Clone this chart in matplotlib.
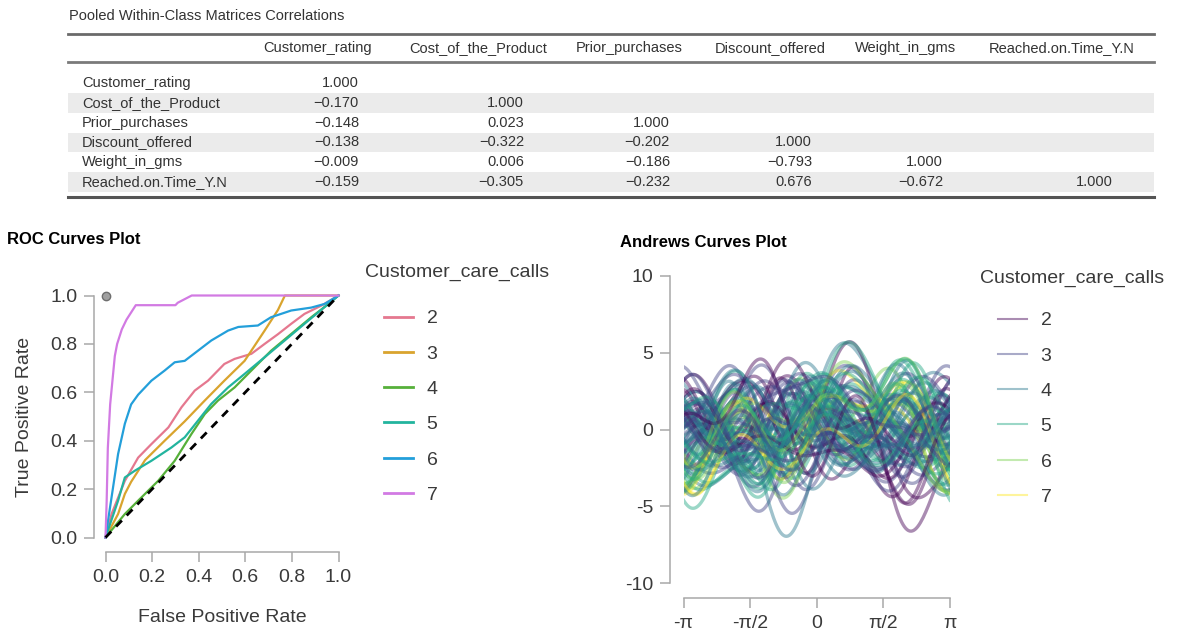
import matplotlib.pyplot as plt
import numpy as np
import pandas as pd
from matplotlib.lines import Line2D
from matplotlib.patches import Rectangle
from pandas.plotting import andrews_curves

plt.rcParams['font.family'] = ['Liberation Sans', 'DejaVu Sans']
plt.rcParams['axes.unicode_minus'] = False

# ---- correlation table ----
var_names = ['Customer_rating', 'Cost_of_the_Product', 'Prior_purchases',
             'Discount_offered', 'Weight_in_gms', 'Reached.on.Time_Y.N']
corr_rows = [
    [1.000],
    [-0.170, 1.000],
    [-0.148, 0.023, 1.000],
    [-0.138, -0.322, -0.202, 1.000],
    [-0.009, 0.006, -0.186, -0.793, 1.000],
    [-0.159, -0.305, -0.232, 0.676, -0.672, 1.000],
]

# ---- ROC curves (false positive rate, true positive rate) per class ----
calls = [2, 3, 4, 5, 6, 7]
fpr_2 = [0, 0.026, 0.083, 0.14, 0.197, 0.27, 0.326, 0.383, 0.44, 0.51, 0.554, 0.626, 0.683, 0.74, 0.797, 0.854, 0.93, 1]
tpr_2 = [0, 0.097, 0.234, 0.33, 0.386, 0.455, 0.538, 0.607, 0.648, 0.717, 0.738, 0.759, 0.80, 0.84, 0.883, 0.924, 0.96, 1]
fpr_3 = [0, 0.054, 0.083, 0.11, 0.17, 0.254, 0.34, 0.426, 0.51, 0.597, 0.683, 0.74, 0.77, 1]
tpr_3 = [0, 0.097, 0.18, 0.23, 0.32, 0.40, 0.48, 0.566, 0.648, 0.73, 0.855, 0.94, 1.0, 1]
fpr_4 = [0, 0.083, 0.14, 0.226, 0.297, 0.369, 0.426, 0.483, 0.554, 0.626, 0.711, 0.797, 0.883, 0.95, 1]
tpr_4 = [0, 0.097, 0.152, 0.234, 0.317, 0.428, 0.51, 0.566, 0.62, 0.69, 0.772, 0.841, 0.91, 0.96, 1]
fpr_5 = [0, 0.054, 0.083, 0.126, 0.197, 0.283, 0.34, 0.397, 0.454, 0.526, 0.597, 0.683, 0.769, 0.854, 0.94, 1]
tpr_5 = [0, 0.152, 0.248, 0.276, 0.317, 0.372, 0.414, 0.483, 0.552, 0.62, 0.676, 0.745, 0.814, 0.883, 0.952, 1]
fpr_6 = [0, 0.026, 0.054, 0.083, 0.11, 0.14, 0.197, 0.254, 0.297, 0.34, 0.397, 0.454, 0.526, 0.57, 0.654, 0.71, 0.797, 0.883, 0.94, 1]
tpr_6 = [0, 0.166, 0.345, 0.47, 0.55, 0.59, 0.648, 0.69, 0.724, 0.73, 0.772, 0.814, 0.855, 0.87, 0.876, 0.91, 0.938, 0.95, 0.965, 1]
fpr_7 = [0, 0.005, 0.01, 0.02, 0.03, 0.04, 0.05, 0.07, 0.09, 0.11, 0.13, 0.30, 0.31, 0.33, 0.37, 1]
tpr_7 = [0, 0.15, 0.37, 0.55, 0.65, 0.75, 0.80, 0.86, 0.90, 0.93, 0.96, 0.96, 0.97, 0.98, 1.0, 1]
roc_fpr = [fpr_2, fpr_3, fpr_4, fpr_5, fpr_6, fpr_7]
roc_tpr = [tpr_2, tpr_3, tpr_4, tpr_5, tpr_6, tpr_7]
roc_colors = ['#E5788F', '#D9A42E', '#56B03A', '#22B49E', '#239FDA', '#D27AE3']

# ---- standardized observations for the Andrews curves ----
rows_2 = [[1.4, -0.9, -0.4, -0.6, 0.9, -1.2], [-0.7, -1.8, 1.6, 2.8, -1.3, 0.8],
          [0.0, -1.2, -1.0, -0.5, 1.1, 0.8], [-1.4, -2.0, 0.3, -0.4, 0.6, -1.2],
          [0.7, -0.6, 2.2, 3.1, -1.1, 0.8], [-0.7, -1.5, -0.4, -0.3, 1.2, 0.8],
          [1.4, -1.1, 0.9, -0.5, 1.0, -1.2], [-1.4, -0.4, -1.0, -0.6, 0.8, 0.8],
          [0.0, -2.2, 0.3, 1.2, -1.0, 0.8]]
rows_3 = [[0.7, -0.3, -0.4, -0.5, 0.8, -1.2], [-1.4, 0.4, 0.9, -0.6, 1.0, 0.8],
          [0.0, -1.1, -1.0, 1.7, -1.2, 0.8], [1.4, 0.2, 0.3, -0.4, 0.5, -1.2],
          [-0.7, -0.8, -0.4, -0.6, 1.3, 0.8], [0.0, 0.9, 1.6, 2.4, -1.4, 0.8],
          [1.4, -1.4, -1.0, -0.2, 0.7, 0.8], [-1.4, 0.6, -0.4, -0.5, 0.9, -1.2],
          [0.7, 1.2, 0.3, -0.7, -0.9, 0.8], [-0.7, -0.2, 2.2, -0.3, 1.1, -1.2],
          [0.0, 0.3, -1.0, 3.3, -1.5, 0.8], [1.4, -0.6, 0.9, -0.6, 0.6, 0.8],
          [-1.4, 1.5, -0.4, -0.4, 1.2, -1.2], [0.7, -1.7, 0.3, 0.6, -0.6, 0.8],
          [0.0, -0.5, 0.3, -0.6, 1.1, -1.2], [1.4, 0.7, -0.4, -0.5, 0.9, 0.8],
          [-0.7, -1.3, 0.9, -0.4, 0.6, -1.2], [0.7, 0.0, -1.0, 2.1, -1.3, 0.8],
          [-1.4, -0.9, 0.3, -0.6, 1.2, 0.8], [0.0, 1.0, -0.4, -0.3, 0.7, -1.2],
          [1.4, -0.2, 1.6, -0.7, 1.0, 0.8], [-0.7, 0.5, 0.3, 0.9, -1.1, 0.8],
          [0.7, -1.0, -0.4, -0.5, 1.3, -1.2], [-1.4, 0.1, -1.0, -0.4, 0.8, 0.8]]
rows_4 = [[0.0, 0.5, 0.3, -0.6, 0.9, -1.2], [1.4, 0.1, -1.0, -0.4, 1.1, 0.8],
          [-0.7, 1.3, 0.9, 2.0, -1.3, 0.8], [0.7, -0.4, -0.4, -0.5, 0.7, -1.2],
          [-1.4, 0.8, 1.6, -0.7, 1.0, 0.8], [0.0, -0.9, -0.4, 1.1, -1.1, 0.8],
          [1.4, 1.6, 0.3, -0.3, 0.4, -1.2], [-0.7, 0.0, -1.0, -0.6, 1.3, 0.8],
          [0.7, 1.0, 2.2, 2.9, -1.4, 0.8], [-1.4, -0.5, 0.3, -0.5, 0.8, -1.2],
          [0.0, 1.9, -0.4, -0.4, -0.8, 0.8], [1.4, 0.7, 0.9, -0.6, 1.2, -1.2],
          [-0.7, -1.3, -1.0, 0.3, -1.0, 0.8], [0.7, 0.3, 0.3, -0.5, 1.0, 0.8],
          [-1.4, 1.1, -0.4, 3.5, -1.5, 0.8], [0.0, -0.1, 1.6, -0.3, 0.6, -1.2],
          [0.7, 0.6, -0.4, -0.6, 1.1, 0.8], [-0.7, 1.4, 0.3, -0.5, 0.7, -1.2],
          [1.4, -0.2, 0.9, 1.6, -1.2, 0.8], [0.0, 0.9, -1.0, -0.4, 1.2, -1.2],
          [-1.4, 0.2, 0.3, -0.6, 0.9, 0.8], [0.7, 1.7, 1.6, -0.3, -1.0, 0.8],
          [-0.7, -0.7, -0.4, -0.5, 1.0, -1.2], [1.4, 0.4, 0.3, 2.4, -1.4, 0.8],
          [0.0, 1.2, 0.9, -0.7, 0.5, 0.8], [-1.4, -0.2, -1.0, -0.4, 1.1, -1.2]]
rows_5 = [[0.7, 0.9, 0.9, -0.5, 0.9, -1.2], [-1.4, 1.4, 1.6, -0.6, 1.1, 0.8],
          [0.0, 0.2, 0.3, 2.2, -1.2, 0.8], [1.4, 1.7, -0.4, -0.4, 0.7, -1.2],
          [-0.7, 0.6, 2.2, -0.7, 1.3, 0.8], [0.7, 1.2, 0.3, 1.4, -1.3, 0.8],
          [-1.4, -0.3, 0.9, -0.5, 0.5, -1.2], [0.0, 2.0, -0.4, -0.6, 1.0, 0.8],
          [1.4, 0.4, 1.6, 3.0, -1.4, 0.8], [-0.7, 1.0, -1.0, -0.3, 0.8, -1.2],
          [0.7, -0.6, 0.3, -0.6, 1.2, 0.8], [0.0, 1.5, 2.2, -0.4, -0.9, 0.8],
          [1.4, 1.1, 0.3, -0.5, 1.0, 0.8], [-0.7, 1.8, 0.9, -0.6, 0.6, -1.2],
          [0.0, 0.7, 1.6, 1.9, -1.3, 0.8], [0.7, 1.3, -1.0, -0.4, 1.1, -1.2],
          [-1.4, 0.5, 0.3, -0.3, 0.9, 0.8], [1.4, 1.6, 0.9, -0.6, -1.1, 0.8]]
rows_6 = [[0.0, 1.2, 0.9, -0.6, -1.1, 0.8], [1.4, 0.8, 1.6, -0.5, -0.9, -1.2],
          [-0.7, 1.5, 0.3, 1.5, -1.2, 0.8], [0.7, 0.6, 1.6, -0.4, -1.0, 0.8],
          [-1.4, 1.4, 0.9, -0.7, -0.8, -1.2], [0.0, 1.0, 1.6, 2.6, -1.3, 0.8],
          [1.4, 1.6, 0.3, -0.3, -1.1, 0.8]]
rows_7 = [[-0.7, 1.2, 0.9, -0.6, -1.0, 0.8], [0.7, 1.0, 0.3, -0.5, -0.8, 0.8],
          [0.0, 1.4, 1.6, 1.8, -1.2, 0.8], [1.4, 0.9, 0.9, -0.4, -1.1, 0.8],
          [-1.4, 1.3, 0.3, -0.6, -0.9, 0.8]]
andrews_rows = [rows_2, rows_3, rows_4, rows_5, rows_6, rows_7]
andrews_colors = ['#440154', '#414487', '#2A788E', '#22A884', '#7AD151', '#FDE725']

W, H = 1183, 634
fig = plt.figure(figsize=(W / 100, H / 100), dpi=100)


def px_axes(left, top, right, bottom):
    return fig.add_axes([left / W, 1 - bottom / H, (right - left) / W, (bottom - top) / H])


# ---- table drawn in pixel space ----
tab = fig.add_axes([0, 0, 1, 1])
tab.set_xlim(0, W)
tab.set_ylim(H, 0)
tab.axis('off')
txt = '#333333'
tab.text(69, 16, 'Pooled Within-Class Matrices Correlations', fontsize=10.5, color=txt, va='center')
t_left, t_right = 68, 1154
row_y = [83, 102.8, 122.6, 142.4, 162.2, 182]
for i in range(1, 6, 2):
    tab.add_patch(Rectangle((t_left, row_y[i] - 9.9), t_right - t_left, 19.8, color='#ebebeb', lw=0))
tab.plot([t_left, t_right], [33.5, 33.5], color='#6a6a6a', lw=2)
tab.plot([t_left, t_right], [61.5, 61.5], color='#7a7a7a', lw=2)
tab.plot([t_left, t_right], [197, 197], color='#555555', lw=2.2)
head_x = [318, 478, 629, 770, 906, 1062]
val_x = [359, 524, 670, 812, 943, 1113]
for j, name in enumerate(var_names):
    tab.text(head_x[j], 48, name, fontsize=10.5, color=txt, ha='center', va='center')
for i, name in enumerate(var_names):
    tab.text(82, row_y[i], name, fontsize=10.5, color=txt, va='center')
    for j, v in enumerate(corr_rows[i]):
        tab.text(val_x[j], row_y[i], f'{v:.3f}'.replace('-', '\u2212'), fontsize=10.5,
                 color=txt, ha='right', va='center')


def style_axes(ax, left_out, bottom_out):
    for s in ['top', 'right']:
        ax.spines[s].set_visible(False)
    ax.spines['left'].set_position(('outward', left_out))
    ax.spines['bottom'].set_position(('outward', bottom_out))
    for s in ['left', 'bottom']:
        ax.spines[s].set_color('#a8a8a8')
        ax.spines[s].set_linewidth(1.1)
    ax.tick_params(length=7, width=1.1, color='#a8a8a8', labelsize=14,
                   labelcolor='#3a3a3a', pad=5)
    ax.set_facecolor('none')


# ---- ROC plot ----
ax1 = px_axes(105.5, 295.5, 338.5, 537.5)
ax1.set_xlim(0, 1)
ax1.set_ylim(0, 1)
style_axes(ax1, 8.3, 10.4)
ticks = [0, 0.2, 0.4, 0.6, 0.8, 1.0]
ax1.set_xticks(ticks, [f'{t:.1f}' for t in ticks])
ax1.set_yticks(ticks, [f'{t:.1f}' for t in ticks])
ax1.spines['left'].set_bounds(0, 1)
ax1.spines['bottom'].set_bounds(0, 1)
for fp, tp, c in zip(roc_fpr, roc_tpr, roc_colors):
    ax1.plot(fp, tp, color=c, lw=1.6, clip_on=False)
ax1.plot([0, 1], [0, 1], color='black', lw=2, ls=(0, (3, 2.5)), zorder=5, clip_on=False)
ax1.plot([0], [1], 'o', ms=6, mfc='#a0a0a0', mec='#6e6e6e', mew=1, clip_on=False)
ax1.set_xlabel('False Positive Rate', fontsize=14, color='#3a3a3a', labelpad=17)
ax1.set_ylabel('True Positive Rate', fontsize=14, color='#3a3a3a', labelpad=12)
fig.text(7 / W, 1 - 240 / H, 'ROC Curves Plot', fontsize=12, fontweight='bold', va='center')

fig.text(365 / W, 1 - 272 / H, 'Customer_care_calls', fontsize=14, color='#3a3a3a', va='center')
h1 = [Line2D([], [], color=c, lw=2) for c in roc_colors]
ax1.legend(h1, [str(c) for c in calls], loc='upper left', bbox_to_anchor=(374 / W, 1 - 300 / H),
           bbox_transform=fig.transFigure, frameon=False, fontsize=14, borderpad=0,
           handlelength=1.5, handletextpad=0.7, labelspacing=0.91, labelcolor='#3a3a3a')

# ---- Andrews curves plot ----
# interleave the classes so that no single class is drawn on top of all others
records = []
for k, rows in zip(calls, andrews_rows):
    for i, r in enumerate(rows):
        records.append((i / len(rows), k, r))
records.sort(key=lambda rec: rec[0])
df = pd.DataFrame([r for _, _, r in records], columns=var_names)
df['Customer_care_calls'] = [k for _, k, _ in records]

ax2 = px_axes(683.5, 276, 950, 583)
andrews_curves(df, 'Customer_care_calls', ax=ax2, color=andrews_colors, alpha=0.45, lw=2.4)
ax2.get_legend().remove()
ax2.grid(False)
ax2.set_xlim(-np.pi, np.pi)
ax2.set_ylim(-10, 10)
style_axes(ax2, 9.7, 10.8)
ax2.set_xticks([-np.pi, -np.pi / 2, 0, np.pi / 2, np.pi], ['-π', '-π/2', '0', 'π/2', 'π'])
ax2.set_yticks([-10, -5, 0, 5, 10])
ax2.spines['left'].set_bounds(-10, 10)
ax2.spines['bottom'].set_bounds(-np.pi, np.pi)
fig.text(620 / W, 1 - 242 / H, 'Andrews Curves Plot', fontsize=12, fontweight='bold', va='center')

fig.text(980 / W, 1 - 278 / H, 'Customer_care_calls', fontsize=14, color='#3a3a3a', va='center')
h2 = [Line2D([], [], color=c, lw=1.5, alpha=0.45) for c in andrews_colors]
ax2.legend(h2, [str(c) for c in calls], loc='upper left', bbox_to_anchor=(988 / W, 1 - 302 / H),
           bbox_transform=fig.transFigure, frameon=False, fontsize=14, borderpad=0,
           handlelength=1.5, handletextpad=0.7, labelspacing=0.91, labelcolor='#3a3a3a')

fig.savefig('out.png', dpi=100)
